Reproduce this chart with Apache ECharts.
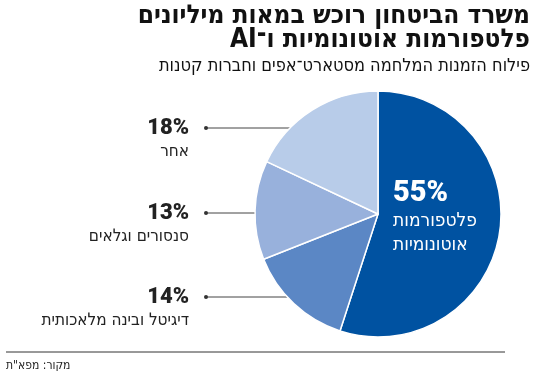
<!DOCTYPE html>
<html>
<head>
<meta charset="utf-8">
<script src="https://cdn.jsdelivr.net/npm/echarts@6/dist/echarts.min.js"></script>
<style>
  html, body { margin: 0; padding: 0; background: #fff; }
  #chart { width: 550px; height: 378px; }
</style>
</head>
<body>
<div id="chart" dir="rtl"></div>
<script>
const titleLines = ['משרד הביטחון רוכש במאות מיליונים', 'פלטפורמות אוטונומיות ו־AI']
const subtitle = 'פילוח הזמנות המלחמה מסטארט־אפים וחברות קטנות'
const sourceText = 'מקור: מפא"ת'

const categories = ['פלטפורמות\nאוטונומיות', 'דיגיטל ובינה מלאכותית', 'סנסורים וגלאים', 'אחר']
const shares = [55, 14, 13, 18]
const colors = ['#0052a1', '#5b87c5', '#98b1dc', '#b8cce9']

// layout of the pie and the label rows on the left
const CX = 378, CY = 214, R = 123
const labelRows = [null, 297, 213, 128]
const FONT = '"DejaVu Sans Condensed", "DejaVu Sans", sans-serif'
const NUM_FONT = 'Roboto, "DejaVu Sans Condensed", sans-serif'

const chart = echarts.init(document.getElementById('chart'))

const headText = (text, y, font) => ({
  type: 'text', x: 530, y,
  style: { text, font, fill: '#111', align: 'right', verticalAlign: 'middle' }
})

const option = {
  backgroundColor: '#fff',
  textStyle: { fontFamily: FONT },
  graphic: [
    headText(titleLines[0], 16, '900 26px ' + FONT),
    headText(titleLines[1], 40, '900 26px ' + FONT),
    headText(subtitle, 66, '18px ' + FONT),
    { type: 'line', shape: { x1: 6, y1: 352, x2: 505, y2: 352 }, style: { stroke: '#333', lineWidth: 1 } },
    {
      type: 'text', x: 6, y: 366,
      style: { text: sourceText, font: '12px ' + FONT, fill: '#222', align: 'left', verticalAlign: 'middle' }
    },
    ...labelRows.filter(y => y).map(y => ({
      type: 'circle', shape: { cx: 206, cy: y, r: 2 }, style: { fill: '#333' }, z: 10
    }))
  ],
  series: [{
    type: 'pie',
    center: [CX, CY],
    radius: R,
    startAngle: 90,
    clockwise: true,
    silent: true,
    itemStyle: { borderColor: '#fff', borderWidth: 1.5 },
    data: shares.map((v, i) => ({
      value: v,
      name: categories[i],
      itemStyle: { color: colors[i] },
      label: i === 0
        ? { position: 'inside' }
        : { position: 'outside' },
      labelLine: { show: i !== 0 }
    })),
    label: {
      formatter: p => `{p|${p.value}%}\n{n|${p.name}}`,
      rich: {
        p: { fontFamily: NUM_FONT, fontSize: 22, fontWeight: 900, color: '#222', lineHeight: 24 },
        n: { fontFamily: FONT, fontSize: 17, color: '#222', lineHeight: 24 }
      }
    },
    labelLine: { lineStyle: { color: '#444', width: 1 }, length: 10, length2: 10 },
    labelLayout: function (params) {
      if (params.dataIndex === 0) {
        return {
          x: 393, y: 218, align: 'left', verticalAlign: 'middle'
        }
      }
      const y = labelRows[params.dataIndex]
      const edgeX = CX - Math.sqrt(R * R - (y - CY) * (y - CY))
      return {
        x: 189,
        y: y - 12,
        align: 'right',
        verticalAlign: 'top',
        labelLinePoints: [[edgeX, y], [edgeX, y], [206, y]]
      }
    }
  }]
}

// white text for the big slice
option.series[0].data[0].label.rich = {
  p: { fontFamily: NUM_FONT, fontSize: 29, fontWeight: 900, color: '#fff', lineHeight: 30 },
  n: { fontFamily: FONT, fontSize: 19, color: '#fff', lineHeight: 24 }
}

chart.setOption(option)
</script>
</body>
</html>
